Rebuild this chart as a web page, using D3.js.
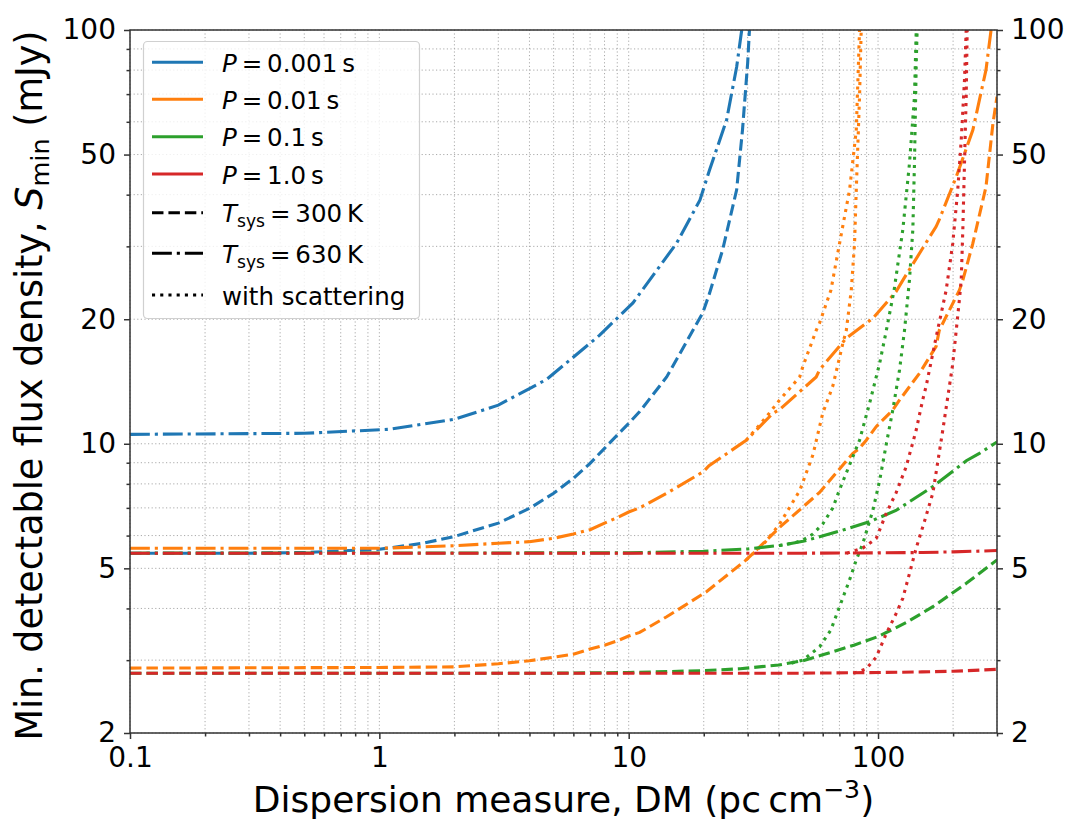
<!DOCTYPE html>
<html>
<head>
<meta charset="utf-8">
<script src="https://cdn.jsdelivr.net/npm/d3@7"></script>
<style>
  body { margin: 0; background: #fff; }
  svg { display: block; font-family: "DejaVu Sans", sans-serif; }
</style>
</head>
<body>
<div id="chart"></div>
<script>
// ---- data: DM (pc cm^-3) and S_min (mJy) ----
// P = 0.001 s
var dmBlue300 = [0.1, 0.3, 0.5, 1, 1.5, 2, 3, 4, 5, 6, 7, 8, 9, 10, 11.07, 14.2, 19.8, 21.1, 23.8, 27.1, 28.6, 30, 30.5];
var sBlue300  = [5.44, 5.44, 5.46, 5.56, 5.75, 5.97, 6.43, 6.98, 7.59, 8.25, 8.97, 9.75, 10.5, 11.2, 11.96, 14.5, 20.7, 23.1, 29.4, 41.1, 57.3, 83.2, 100];
var dmBlue630 = [0.1, 0.5, 1.1, 2, 3, 4, 4.68, 7.65, 10.4, 15.6, 19.3, 21.1, 24.7, 27.1, 28.4];
var sBlue630  = [10.54, 10.6, 10.84, 11.46, 12.4, 13.6, 14.3, 18.3, 21.9, 30.6, 38.8, 45.9, 60.6, 81.4, 100];

// P = 0.01 s
var dmOrange300 = [0.1, 1, 2, 3, 4, 5, 6, 7, 8, 9, 10, 11.07, 14.2, 16.5, 20.5, 29.6, 40.3, 58.3, 79.3, 84.3, 89.7, 98.3, 114.6, 122, 146.6, 171, 176, 212, 219, 240, 271, 289, 300];
var sOrange300  = [2.87, 2.88, 2.89, 2.94, 2.99, 3.05, 3.10, 3.19, 3.26, 3.34, 3.43, 3.50, 3.82, 4.04, 4.39, 5.24, 6.28, 7.63, 9.48, 9.75, 10.2, 11.0, 12.07, 12.76, 14.8, 17.2, 18.8, 23.5, 24.9, 30.5, 41.8, 59.5, 69];
var dmOrange630 = [0.1, 1, 2, 3, 4, 5, 6, 7, 8, 9, 10, 11.07, 14.2, 19.9, 21, 29.6, 37.9, 40.3, 56.5, 58.3, 74.6, 95.3, 118, 126, 171, 176, 206, 240, 271, 284];
var sOrange630  = [5.59, 5.59, 5.67, 5.75, 5.8, 5.91, 6.05, 6.2, 6.43, 6.63, 6.84, 7.0, 7.59, 8.56, 8.85, 10.2, 11.85, 12.1, 14.5, 15.1, 18.0, 20.1, 23.3, 24.9, 33.5, 34.8, 44.2, 57.3, 80.1, 100];
var dmOrangeScat300 = [29.6, 35, 40.3, 48.5, 54.8, 60, 65.9, 72.3, 74.6, 78.1, 80.5, 81.8, 84.3, 85.6];
var sOrangeScat300  = [5.24, 5.75, 6.4, 7.7, 9.4, 11.85, 13.8, 17.5, 18.8, 23.5, 30.5, 41.1, 69, 100];
var dmOrangeScat630 = [29.6, 33, 36, 40.3, 48.5, 50, 56.5, 58.3, 64.7, 70.1, 76.9, 81.8, 84.3];
var sOrangeScat630  = [10.2, 11.0, 11.7, 12.76, 14.5, 15.4, 18.8, 19.6, 23.5, 30.5, 41.1, 57.3, 100];

// P = 0.1 s
var dmGreen300 = [0.1, 5, 10, 20, 28, 40, 50, 60, 80, 100, 130, 166, 226, 300];
var sGreen300  = [2.79, 2.79, 2.80, 2.83, 2.86, 2.92, 2.99, 3.09, 3.26, 3.42, 3.7, 4.04, 4.6, 5.24];
var dmGreen630 = [0.1, 10, 20, 30, 40.3, 50, 58.3, 70, 92.4, 118, 166, 226, 255, 300];
var sGreen630  = [5.44, 5.45, 5.5, 5.57, 5.68, 5.81, 5.96, 6.15, 6.48, 6.9, 7.88, 9.1, 9.48, 10.1];
var dmGreenScat300 = [45, 50, 58.3, 64.7, 70.1, 76.9, 81.8, 86.9, 95.3, 101.4, 108, 114.6, 122, 127.7, 133.7, 137.9, 140, 142.3, 143.5];
var sGreenScat300  = [2.95, 3.0, 3.23, 3.55, 4.04, 4.69, 5.24, 5.74, 6.9, 8.13, 10.0, 12.07, 15.1, 18.8, 24.9, 32.9, 47.6, 83, 100];
var dmGreenScat630 = [40.3, 45.6, 50, 54.8, 60, 65.9, 70.1, 74.6, 84.3, 92.4, 101.4, 108, 116, 125.7, 133.7, 140, 142.3];
var sGreenScat630  = [5.68, 5.75, 5.85, 6.05, 6.4, 7.0, 7.75, 8.5, 10.2, 12.5, 15.6, 18.8, 23.5, 32.9, 47.6, 69, 100];

// P = 1.0 s
var dmRed300 = [0.1, 10, 50, 100, 150, 200, 300];
var sRed300  = [2.79, 2.79, 2.79, 2.80, 2.81, 2.82, 2.85];
var dmRed630 = [0.1, 10, 50, 100, 150, 200, 300];
var sRed630  = [5.44, 5.44, 5.44, 5.45, 5.46, 5.48, 5.52];
var dmRedScat300 = [80, 89.7, 98.3, 108, 118, 125.7, 133.7, 142.3, 153.6, 165.9, 181.9, 199.4, 212, 215.6, 218.8, 222.2, 225.7, 227.8];
var sRedScat300  = [2.79, 2.86, 3.05, 3.48, 3.88, 4.23, 4.86, 5.6, 6.5, 7.6, 10.8, 15.6, 22.3, 24.9, 32.9, 47.6, 69, 100];
var dmRedScat630 = [75, 86.9, 98.3, 108, 118, 129.7, 142.3, 151, 156, 171, 187.6, 199.4, 208.8, 215.6, 222.2, 225.7];
var sRedScat630  = [5.44, 5.6, 5.9, 6.8, 7.6, 8.8, 10.8, 12.76, 13.8, 18.1, 23.5, 30.5, 41.1, 54.2, 75.7, 100];

// tick labels
var xTickLabels = [0.1, 1, 10, 100];
var yTickLabels = [2, 5, 10, 20, 50, 100];

// legend text
var periodLabels = ["0.001", "0.01", "0.1", "1.0"];
var tsysLabels = ["300", "630"];

// ---- styles ----
var colors = {blue: "#1f77b4", orange: "#ff7f0e", green: "#2ca02c", red: "#d62728"};
var lw = 3.1;
var dashes = {
  solid: null,
  dashed: [3.7 * lw, 1.6 * lw].join(","),
  dashdot: [6.4 * lw, 1.6 * lw, 1 * lw, 1.6 * lw].join(","),
  dotted: [1 * lw, 1.65 * lw].join(",")
};

var series = [
  {c: "blue", st: "dashed", dm: dmBlue300, s: sBlue300},
  {c: "blue", st: "dashdot", dm: dmBlue630, s: sBlue630},
  {c: "orange", st: "dashed", dm: dmOrange300, s: sOrange300},
  {c: "orange", st: "dashdot", dm: dmOrange630, s: sOrange630},
  {c: "orange", st: "dotted", dm: dmOrangeScat300, s: sOrangeScat300},
  {c: "orange", st: "dotted", dm: dmOrangeScat630, s: sOrangeScat630},
  {c: "green", st: "dashed", dm: dmGreen300, s: sGreen300},
  {c: "green", st: "dashdot", dm: dmGreen630, s: sGreen630},
  {c: "green", st: "dotted", dm: dmGreenScat300, s: sGreenScat300},
  {c: "green", st: "dotted", dm: dmGreenScat630, s: sGreenScat630},
  {c: "red", st: "dashed", dm: dmRed300, s: sRed300},
  {c: "red", st: "dashdot", dm: dmRed630, s: sRed630},
  {c: "red", st: "dotted", dm: dmRedScat300, s: sRedScat300},
  {c: "red", st: "dotted", dm: dmRedScat630, s: sRedScat630}
];

// ---- layout ----
var width = 1070, height = 821;
var margin = {top: 30, right: 73, bottom: 88, left: 130};
var x0 = margin.left, x1 = width - margin.right;
var y0 = height - margin.bottom, y1 = margin.top;

var x = d3.scaleLog().domain([0.1, 300]).range([x0, x1]);
var y = d3.scaleLog().domain([2, 100]).range([y0, y1]);

var svg = d3.select("#chart").append("svg")
  .attr("width", width)
  .attr("height", height);

// every 1..9 x decade position inside the domain
var xAll = [];
[0.1, 1, 10, 100].forEach(function(dec) {
  for (var k = 1; k <= 9; k++) {
    var v = +(k * dec).toPrecision(3);
    if (v <= 300) xAll.push(v);
  }
});
var yAll = [];
[1, 10].forEach(function(dec) {
  for (var k = 1; k <= 9; k++) {
    var v = k * dec;
    if (v >= 2) yAll.push(v);
  }
});
yAll.push(100);
var xMinor = xAll.filter(function(v) { return xTickLabels.indexOf(v) < 0; });
var yMinor = yAll.filter(function(v) { return yTickLabels.indexOf(v) < 0; });

// grid
var grid = svg.append("g")
  .attr("stroke", "#aaaaaa")
  .attr("stroke-width", 1)
  .attr("stroke-dasharray", "1.2,2.4");
grid.selectAll(".gx").data(xAll).join("line")
  .attr("x1", function(d) { return x(d); }).attr("x2", function(d) { return x(d); })
  .attr("y1", y0).attr("y2", y1);
grid.selectAll(".gy").data(yAll).join("line")
  .attr("y1", function(d) { return y(d); }).attr("y2", function(d) { return y(d); })
  .attr("x1", x0).attr("x2", x1);

// curves
svg.append("clipPath").attr("id", "plotclip")
  .append("rect").attr("x", x0).attr("y", y1).attr("width", x1 - x0).attr("height", y0 - y1);

var line = d3.line()
  .x(function(d) { return x(d[0]); })
  .y(function(d) { return y(d[1]); });

svg.append("g").attr("clip-path", "url(#plotclip)")
  .selectAll("path").data(series).join("path")
  .attr("d", function(d) { return line(d3.zip(d.dm, d.s)); })
  .attr("fill", "none")
  .attr("stroke", function(d) { return colors[d.c]; })
  .attr("stroke-width", lw)
  .attr("stroke-dasharray", function(d) { return dashes[d.st]; });

// axes
var tickFont = 28;
function styleAxis(g) {
  g.select(".domain").remove();
  g.selectAll("line").attr("stroke", "#333").attr("stroke-width", 1.5);
  g.selectAll("text").attr("fill", "#000");
  g.attr("font-size", tickFont).attr("font-family", "DejaVu Sans, sans-serif");
}
var fmt = d3.format("~g");

svg.append("g").attr("transform", "translate(0," + y0 + ")")
  .call(d3.axisBottom(x).tickValues(xMinor).tickSize(3.5).tickFormat(""))
  .call(styleAxis);
svg.append("g").attr("transform", "translate(0," + y0 + ")")
  .call(d3.axisBottom(x).tickValues(xTickLabels).tickSize(6).tickPadding(8).tickFormat(fmt))
  .call(styleAxis);

svg.append("g").attr("transform", "translate(" + x0 + ",0)")
  .call(d3.axisLeft(y).tickValues(yMinor).tickSize(3.5).tickFormat(""))
  .call(styleAxis);
svg.append("g").attr("transform", "translate(" + x0 + ",0)")
  .call(d3.axisLeft(y).tickValues(yTickLabels).tickSize(6).tickPadding(8).tickFormat(fmt))
  .call(styleAxis);

svg.append("g").attr("transform", "translate(" + x1 + ",0)")
  .call(d3.axisRight(y).tickValues(yMinor).tickSize(3.5).tickFormat(""))
  .call(styleAxis);
svg.append("g").attr("transform", "translate(" + x1 + ",0)")
  .call(d3.axisRight(y).tickValues(yTickLabels).tickSize(6).tickPadding(8).tickFormat(fmt))
  .call(styleAxis);

// frame
svg.append("rect")
  .attr("x", x0).attr("y", y1).attr("width", x1 - x0).attr("height", y0 - y1)
  .attr("fill", "none").attr("stroke", "#333").attr("stroke-width", 1.5);

// axis labels
var xl = svg.append("text")
  .attr("x", (x0 + x1) / 2).attr("y", 812)
  .attr("text-anchor", "middle").attr("font-size", 36);
xl.append("tspan").text("Dispersion measure, DM (pc\u2009cm");
xl.append("tspan").attr("font-size", "70%").attr("dy", -14).text("\u22123");
xl.append("tspan").attr("dy", 14).text(")");

var yl = svg.append("text")
  .attr("transform", "translate(42," + ((y0 + y1) / 2 + 4) + ") rotate(-90)")
  .attr("text-anchor", "middle").attr("font-size", 36.5);
yl.append("tspan").text("Min. detectable flux density, ");
yl.append("tspan").attr("font-style", "italic").text("S");
yl.append("tspan").attr("font-size", "70%").attr("dy", 7).text("min");
yl.append("tspan").attr("dy", -7).text(" (mJy)");

// legend
var leg = svg.append("g");
leg.append("rect")
  .attr("x", 143.5).attr("y", 41.5).attr("width", 276).attr("height", 277)
  .attr("rx", 4).attr("fill", "#fff").attr("fill-opacity", 0.8)
  .attr("stroke", "#d0d0d0").attr("stroke-width", 1.2);

var rowY = [62.3, 99.3, 136.7, 174, 212.7, 253.3, 295];
var legFont = 24.5;
var legItems = [];
periodLabels.forEach(function(p, i) {
  legItems.push({kind: "P", label: p, color: colors[["blue", "orange", "green", "red"][i]], st: "solid"});
});
tsysLabels.forEach(function(t, i) {
  legItems.push({kind: "T", label: t, color: "#000", st: i === 0 ? "dashed" : "dashdot"});
});
legItems.push({kind: "S", label: "with scattering", color: "#000", st: "dotted"});

legItems.forEach(function(it, i) {
  var ry = rowY[i];
  leg.append("line")
    .attr("x1", 152).attr("x2", 203).attr("y1", ry).attr("y2", ry)
    .attr("stroke", it.color).attr("stroke-width", lw)
    .attr("stroke-dasharray", dashes[it.st]);
  var t = leg.append("text").attr("x", 222).attr("y", ry + 9.5).attr("font-size", legFont);
  if (it.kind === "P") {
    t.append("tspan").attr("font-style", "italic").text("P");
    t.append("tspan").text("\u2009=\u2009" + it.label + "\u2009s");
  } else if (it.kind === "T") {
    t.append("tspan").attr("font-style", "italic").text("T");
    t.append("tspan").attr("font-size", "70%").attr("dy", 5).text("sys");
    t.append("tspan").attr("dy", -5).text("\u2009=\u2009" + it.label + "\u2009K");
  } else {
    t.text(it.label);
  }
});
</script>
</body>
</html>
